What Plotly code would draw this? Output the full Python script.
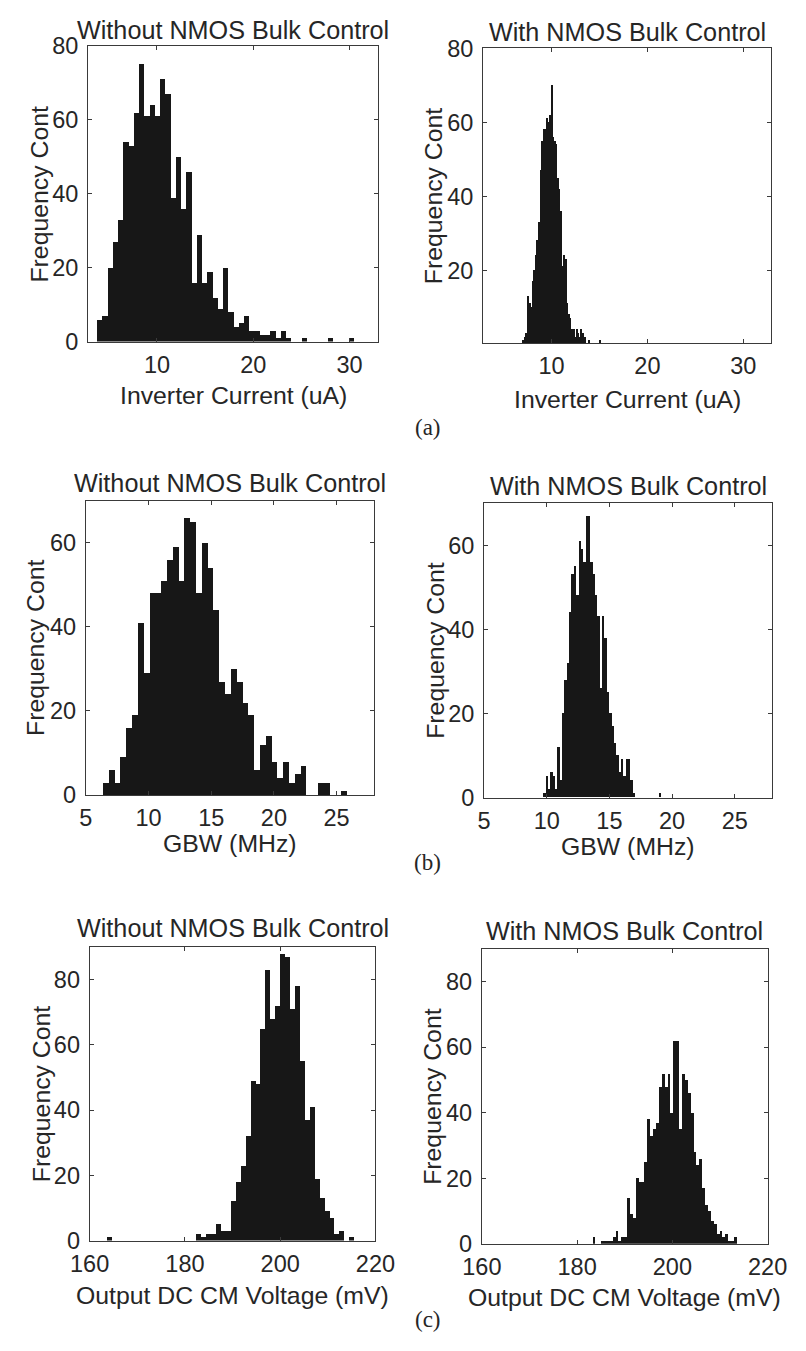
import plotly.graph_objects as go

W, H = 806, 1351

# ---------------- data (histogram bin starts, bin widths, counts) ----------------
# (a) Inverter current (uA)
a_wo_start, a_wo_width = 3.8, 0.545
a_wo_counts = [6, 7, 20, 27, 33, 54, 53, 62, 75, 61,
               64, 61, 71, 67, 39, 50, 36, 46, 16, 29,
               16, 19, 12, 9, 20, 8, 4, 5, 7, 3,
               3, 2, 2, 3, 1, 3, 1, 0, 0, 1,
               0, 0, 0, 0, 1, 0, 0, 0, 1]
a_w_start, a_w_width = 7.0, 0.164
a_w_counts = [1, 2, 3, 13, 11, 10, 17, 20, 24, 28,
              33, 47, 55, 58, 58, 61, 60, 62, 70, 56,
              55, 54, 45, 42, 36, 21, 24, 23, 11, 8,
              7, 4, 4, 2, 4, 3, 2, 4, 3, 2,
              0, 0, 1, 0, 0, 0, 0, 0, 0, 1]
# (b) GBW (MHz)
b_wo_start, b_wo_width = 6.36, 0.4636
b_wo_counts = [3, 6, 3, 9, 16, 19, 41, 29, 48, 48,
               51, 56, 59, 51, 66, 65, 48, 60, 54, 44,
               27, 24, 30, 27, 22, 19, 6, 12, 14, 8,
               4, 8, 3, 5, 7, 0, 0, 3, 3, 0,
               0, 1]
b_w_start, b_w_width = 9.72, 0.188
b_w_counts = [1, 5, 2, 6, 5, 2, 12, 4, 20, 28,
              32, 44, 53, 55, 48, 61, 59, 56, 67, 67,
              56, 53, 48, 43, 26, 43, 38, 25, 20, 17,
              13, 10, 6, 9, 5, 9, 9, 4, 1, 0,
              0, 0, 0, 0, 0, 0, 0, 0, 0, 1]
# (c) Output DC CM voltage (mV)
c_wo_start, c_wo_width = 163.67, 1.036
c_wo_counts = [1, 0, 0, 0, 0, 0, 0, 0, 0, 0,
               0, 0, 0, 0, 0, 0, 0, 0, 2, 1,
               2, 2, 5, 3, 3, 12, 18, 23, 32, 49,
               48, 65, 83, 68, 72, 88, 87, 71, 78, 55,
               37, 41, 19, 13, 9, 7, 2, 3, 0, 1]
c_w_start, c_w_width = 183.2, 0.606
c_w_counts = [2, 0, 0, 1, 1, 1, 1, 2, 4, 1,
              2, 2, 14, 9, 8, 20, 19, 19, 25, 38,
              33, 35, 37, 48, 52, 48, 52, 40, 62, 62,
              35, 52, 50, 46, 40, 28, 24, 26, 17, 12,
              10, 7, 6, 3, 4, 2, 3, 1, 1, 2]

title_wo = "Without NMOS Bulk Control"
title_w = "With NMOS Bulk Control"
ylabel = "Frequency Cont"
xlabel_a = "Inverter Current (uA)"
xlabel_b = "GBW (MHz)"
xlabel_c = "Output DC CM Voltage (mV)"
sub_labels = ["(a)", "(b)", "(c)"]

x_ticks_a = [10, 20, 30]
x_ticks_b = [5, 10, 15, 20, 25]
x_ticks_c = [160, 180, 200, 220]
y_ticks_a = [0, 20, 40, 60, 80]
y_ticks_a_right = [20, 40, 60, 80]
y_ticks_b = [0, 20, 40, 60]
y_ticks_c = [0, 20, 40, 60, 80]

# ---------------- layout description (pixel boxes: x0, y0, x1, y1) ----------------
panels = [
    dict(start=a_wo_start, width=a_wo_width, counts=a_wo_counts, box=(71.7, 33.3, 376.7, 335.0),
         xr=[2.85, 32.95], xt=x_ticks_a, yr=[0, 80], yt=y_ticks_a, title=title_wo, xl=xlabel_a,
         title_y=17.5, xl_y=390, yl_x=21),
    dict(start=a_w_start, width=a_w_width, counts=a_w_counts, box=(487.3, 36.0, 790.7, 336.7),
         xr=[2.85, 32.95], xt=x_ticks_a, yr=[0.3, 80], yt=y_ticks_a_right, title=title_w, xl=xlabel_a,
         title_y=19.5, xl_y=394, yl_x=435),
    dict(start=b_wo_start, width=b_wo_width, counts=b_wo_counts, box=(69.3, 497.3, 372.7, 797.3),
         xr=[5, 28], xt=x_ticks_b, yr=[0, 70], yt=y_ticks_b, title=title_wo, xl=xlabel_b,
         title_y=479, xl_y=847, yl_x=17),
    dict(start=b_w_start, width=b_w_width, counts=b_w_counts, box=(488.3, 500.0, 791.7, 800.0),
         xr=[5, 28], xt=x_ticks_b, yr=[0, 70], yt=y_ticks_b, title=title_w, xl=xlabel_b,
         title_y=482.5, xl_y=850, yl_x=437),
    dict(start=c_wo_start, width=c_wo_width, counts=c_wo_counts, box=(73.3, 952.3, 374.0, 1251.7),
         xr=[160, 220], xt=x_ticks_c, yr=[0, 90], yt=y_ticks_c, title=title_wo, xl=xlabel_c,
         title_y=933, xl_y=1308, yl_x=22.5),
    dict(start=c_w_start, width=c_w_width, counts=c_w_counts, box=(486.0, 954.3, 786.7, 1255.0),
         xr=[160, 220], xt=x_ticks_c, yr=[0, 90], yt=y_ticks_c, title=title_w, xl=xlabel_c,
         title_y=936.5, xl_y=1310, yl_x=434),
]
sub_pos = [(429, 423), (429, 866), (429, 1331.7)]

FONT = "Liberation Sans, Arial, Helvetica, sans-serif"
TXT = "#262626"
AX = "#3a3a3a"
BAR = "#171717"

fig = go.Figure()
annotations = []


def ann(text, xp, yp, size, angle=0, family=FONT):
    annotations.append(dict(
        text=text, x=xp / W, y=1 - yp / H, xref="paper", yref="paper",
        xanchor="center", yanchor="middle", showarrow=False, textangle=angle,
        font=dict(size=size, family=family, color=TXT)))


for i, p in enumerate(panels):
    n = len(p["counts"])
    centers = [p["start"] + p["width"] * (k + 0.5) for k in range(n)]
    xa = "x" if i == 0 else f"x{i + 1}"
    ya = "y" if i == 0 else f"y{i + 1}"
    fig.add_trace(go.Bar(
        x=centers, y=p["counts"], width=[p["width"]] * n,
        marker=dict(color=BAR, line=dict(color=BAR, width=0)),
        xaxis=xa, yaxis=ya, showlegend=False, hoverinfo="x+y"))
    x0, y0, x1, y1 = p["box"]
    axkey = "xaxis" if i == 0 else f"xaxis{i + 1}"
    aykey = "yaxis" if i == 0 else f"yaxis{i + 1}"
    common = dict(showline=True, linecolor=AX, linewidth=1, mirror="ticks",
                  ticks="inside", ticklen=4, tickwidth=1, tickcolor=AX,
                  showgrid=False, zeroline=False, fixedrange=True,
                  tickfont=dict(size=23.5, family=FONT, color=TXT))
    fig.update_layout(**{
        axkey: dict(domain=[x0 / W, x1 / W], range=p["xr"], tickvals=p["xt"],
                    anchor=ya, ticklabelstandoff=2, **common),
        aykey: dict(domain=[1 - y1 / H, 1 - y0 / H], range=p["yr"], tickvals=p["yt"],
                    anchor=xa, ticklabelstandoff=4, **common),
    })
    cx = (x0 + x1) / 2
    cy = (y0 + y1) / 2
    ann(p["title"], cx, p["title_y"], 25.2)
    ann(p["xl"], cx, p["xl_y"], 24.8)
    ann(ylabel, p["yl_x"], cy, 24.8, angle=-90)

for lab, (sx, sy) in zip(sub_labels, sub_pos):
    ann(lab, sx, sy, 23, family="Liberation Serif, Times New Roman, serif")

fig.update_layout(
    width=W, height=H, margin=dict(l=0, r=0, t=0, b=0),
    paper_bgcolor="white", plot_bgcolor="white",
    bargap=0, barmode="overlay", showlegend=False,
    annotations=annotations,
)

fig.write_html("out.html")
